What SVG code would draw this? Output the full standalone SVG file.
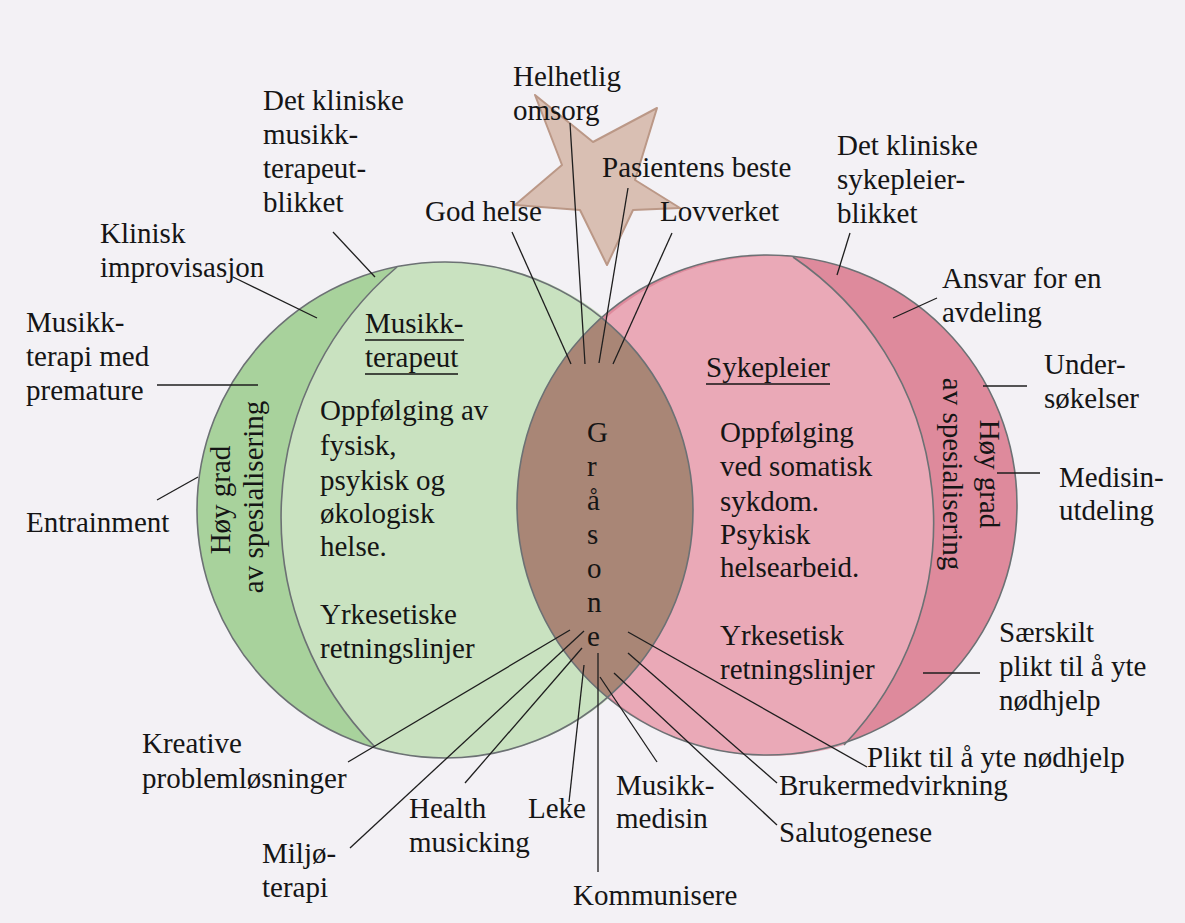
<svg xmlns="http://www.w3.org/2000/svg" width="1185" height="923" viewBox="0 0 1185 923">
<style>
text{font-size:29px;fill:#151515}
.c{stroke:#1e1e1e;stroke-width:1.3;fill:none}
.o{stroke:#6c7174;stroke-width:1.6;fill:none}
.u{stroke:#151515;stroke-width:1.4}
</style>
<rect width="1185" height="923" fill="#f3f1f5"/>
<g id="star"><polygon points="535,95 593,142 657,108 635,180 680,208 633,210 607,265 580,210 515,205 562,165" fill="#d9bfb3" stroke="#bb9887" stroke-width="2" stroke-linejoin="round"/></g>
<g id="green-circle">
<circle cx="445" cy="510" r="248" fill="#a8d29c"/>
<path d="M397,267 A328,328 0 0 0 375,747 A248,248 0 1 0 397,267 Z" fill="#c9e2c0"/>
</g>
<g id="red-circle">
<circle cx="767" cy="505" r="250" fill="#de8a9c"/>
<path d="M793,257 A321,321 0 0 1 844,745 A250,250 0 1 1 793,257 Z" fill="#eaa9b7"/>
</g>
<g id="grasone-lens">
<path d="M601.6,317.6 A250,250 0 0 0 607.4,697.4 A248,248 0 0 0 601.6,317.6 Z" fill="#a98676"/>
</g>
<g id="outlines">
<circle class="o" cx="445" cy="510" r="248"/>
<circle class="o" cx="767" cy="505" r="250"/>
<path class="o" d="M397,267 A328,328 0 0 0 375,747"/>
<path class="o" d="M793,257 A321,321 0 0 1 844,745"/>
</g>
<g id="connectors">
<line class="c" x1="333" y1="232" x2="375" y2="277"/>
<line class="c" x1="233" y1="277" x2="317" y2="318"/>
<line class="c" x1="157" y1="385" x2="258" y2="385"/>
<line class="c" x1="157" y1="500" x2="198" y2="477"/>
<line class="c" x1="512" y1="232" x2="571" y2="364"/>
<line class="c" x1="570" y1="123" x2="585" y2="364"/>
<line class="c" x1="628" y1="188" x2="599" y2="363"/>
<line class="c" x1="672" y1="233" x2="613" y2="364"/>
<line class="c" x1="850" y1="233" x2="837" y2="275"/>
<line class="c" x1="937" y1="298" x2="893" y2="318"/>
<line class="c" x1="983" y1="386" x2="1027" y2="386"/>
<line class="c" x1="997" y1="473" x2="1040" y2="473"/>
<line class="c" x1="923" y1="673" x2="980" y2="673"/>
<line class="c" x1="628" y1="632" x2="867" y2="767"/>
<line class="c" x1="628" y1="653" x2="777" y2="783"/>
<line class="c" x1="614" y1="673" x2="777" y2="825"/>
<line class="c" x1="600" y1="677" x2="657" y2="762"/>
<line class="c" x1="598" y1="653" x2="598" y2="872"/>
<line class="c" x1="584" y1="665" x2="569" y2="802"/>
<line class="c" x1="582" y1="648" x2="465" y2="783"/>
<line class="c" x1="584" y1="631" x2="350" y2="848"/>
<line class="c" x1="570" y1="630" x2="348" y2="762"/>
</g>
<g font-family="'Liberation Serif', 'DejaVu Serif', serif">
<g id="label-mt-blikk"><text x="263" y="110">Det kliniske</text><text x="263" y="144">musikk-</text><text x="263" y="178">terapeut-</text><text x="263" y="212">blikket</text></g>
<g id="label-improv"><text x="100" y="243">Klinisk</text><text x="100" y="277">improvisasjon</text></g>
<g id="label-premature"><text x="26" y="332">Musikk-</text><text x="26" y="366">terapi med</text><text x="26" y="400">premature</text></g>
<g id="label-entrainment"><text x="26" y="532">Entrainment</text></g>
<g id="label-kreative"><text x="142" y="753">Kreative</text><text x="142" y="788">problemløsninger</text></g>
<g id="label-miljo"><text x="262" y="863">Miljø-</text><text x="262" y="897">terapi</text></g>
<g id="label-health"><text x="409" y="818">Health</text><text x="409" y="852">musicking</text></g>
<g id="label-leke"><text x="528" y="818">Leke</text></g>
<g id="label-kommunisere"><text x="573" y="905">Kommunisere</text></g>
<g id="label-musikkmedisin"><text x="616" y="795">Musikk-</text><text x="616" y="828">medisin</text></g>
<g id="label-salutogenese"><text x="779" y="842">Salutogenese</text></g>
<g id="label-bruker"><text x="779" y="795">Brukermedvirkning</text></g>
<g id="label-plikt"><text x="867" y="767">Plikt til å yte nødhjelp</text></g>
<g id="label-saerskilt"><text x="999" y="642">Særskilt</text><text x="999" y="676">plikt til å yte</text><text x="999" y="710">nødhjelp</text></g>
<g id="label-medisin"><text x="1059" y="487">Medisin-</text><text x="1059" y="520">utdeling</text></g>
<g id="label-under"><text x="1044" y="374">Under-</text><text x="1044" y="408">søkelser</text></g>
<g id="label-ansvar"><text x="942" y="288">Ansvar for en</text><text x="942" y="322">avdeling</text></g>
<g id="label-spl-blikk"><text x="837" y="155">Det kliniske</text><text x="837" y="189">sykepleier-</text><text x="837" y="223">blikket</text></g>
<g id="label-helhetlig"><text x="513" y="86">Helhetlig</text><text x="513" y="120">omsorg</text></g>
<g id="label-pasient"><text x="602" y="177">Pasientens beste</text></g>
<g id="label-godhelse"><text x="425" y="221">God helse</text></g>
<g id="label-lov"><text x="660" y="221">Lovverket</text></g>
<g id="label-grasone"><text x="587" y="442">G</text><text x="587" y="476">r</text><text x="587" y="510">å</text><text x="587" y="544">s</text><text x="587" y="578">o</text><text x="587" y="612">n</text><text x="587" y="646">e</text></g>
<g id="node-musikkterapeut">
<text x="365" y="333">Musikk-</text><text x="365" y="367">terapeut</text>
<line class="u" x1="365" y1="340" x2="464" y2="340"/><line class="u" x1="365" y1="374" x2="458" y2="374"/>
<text x="320" y="420">Oppfølging av</text><text x="320" y="455">fysisk,</text><text x="320" y="490">psykisk og</text><text x="320" y="523">økologisk</text><text x="320" y="556">helse.</text>
<text x="320" y="624">Yrkesetiske</text><text x="320" y="658">retningslinjer</text>
</g>
<g id="node-sykepleier">
<text x="706" y="377">Sykepleier</text>
<line class="u" x1="706" y1="384" x2="830" y2="384"/>
<text x="720" y="442">Oppfølging</text><text x="720" y="476">ved somatisk</text><text x="720" y="511">sykdom.</text><text x="720" y="544">Psykisk</text><text x="720" y="577">helsearbeid.</text>
<text x="720" y="645">Yrkesetisk</text><text x="720" y="679">retningslinjer</text>
</g>
<g id="band-left">
<text text-anchor="middle" transform="translate(230,500) rotate(-90)">Høy grad</text>
<text text-anchor="middle" transform="translate(263,497) rotate(-90)">av spesialisering</text>
</g>
<g id="band-right">
<text text-anchor="middle" transform="translate(980,474) rotate(90)">Høy grad</text>
<text text-anchor="middle" transform="translate(943,474) rotate(90)">av spesialisering</text>
</g>
</g>
</svg>
